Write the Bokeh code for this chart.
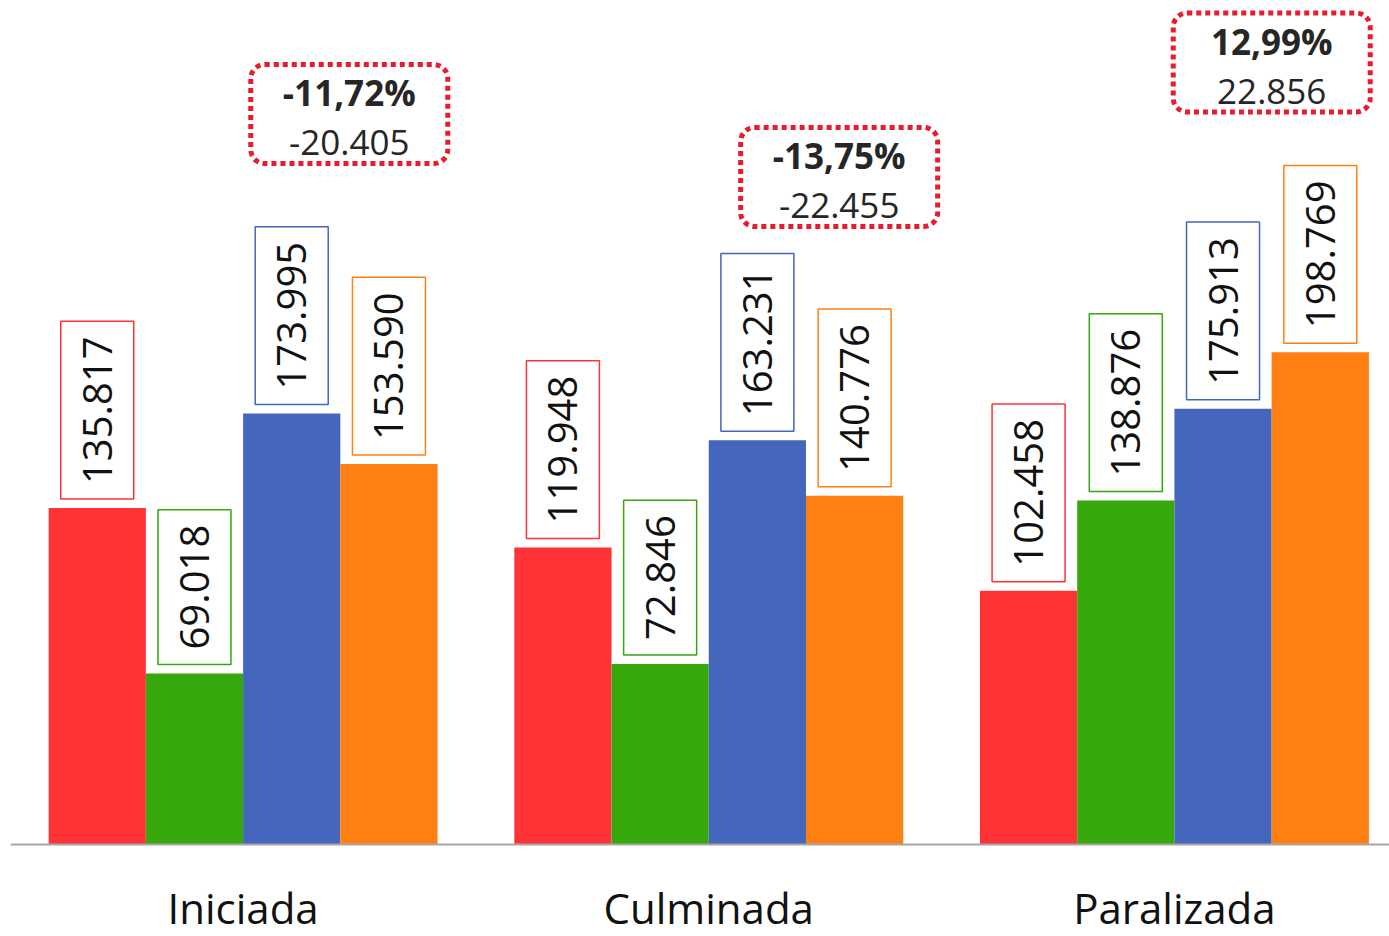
import math
from bokeh.plotting import figure
from bokeh.models import ColumnDataSource, FixedTicker, BoxAnnotation, Range1d
from bokeh.core.properties import value
from bokeh.embed import file_html
from bokeh.resources import INLINE

# ---- data ----
categories = ["Iniciada", "Culminada", "Paralizada"]
serie_1 = [135817, 119948, 102458]   # red
serie_2 = [69018, 72846, 138876]     # green
serie_3 = [173995, 163231, 175913]   # blue
serie_4 = [153590, 140776, 198769]   # orange
series = [serie_1, serie_2, serie_3, serie_4]
colors = ["#FF3336", "#37A80B", "#4466BD", "#FF7F12"]

# comparison annotations (serie_4 vs serie_3), as printed
var_pct = [-11.72, -13.75, 12.99]
var_abs = [-20405, -22455, 22856]
ann_x = [0.228, 1.280, 2.209]
ann_y = [294900, 269500, 315700]


def fmt_int(v):
    s = f"{abs(v):,}".replace(",", ".")
    return ("-" if v < 0 else "") + s


def fmt_pct(v):
    return f"{v:.2f}".replace(".", ",") + "%"


W, H = 1389, 936
k = 0.002477                      # px per data unit (vertical)
Y1 = 844 / k
Y0 = -92 / k
X0, X1 = -0.4995, 2.4619
kx = (W - 10) / (X1 - X0)         # px per data unit (horizontal)

p = figure(width=W, height=H, x_range=Range1d(X0, X1), y_range=Range1d(Y0, Y1),
           output_backend="svg", toolbar_location=None, y_axis_location=None,
           min_border_left=10, min_border_right=0, min_border_top=0, min_border_bottom=0)

bw = 0.2088
offsets = [-1.5 * bw, -0.5 * bw, 0.5 * bw, 1.5 * bw]
for vals, col, off in zip(series, colors, offsets):
    src = ColumnDataSource(dict(
        x=[i + off for i in range(len(categories))],
        top=vals,
        label=[fmt_int(v) for v in vals],
    ))
    p.vbar(x="x", top="top", bottom=0, width=bw, source=src,
           fill_color=col, line_color=None)
    p.text(x="x", y="top", text="label", source=src, angle=math.pi / 2,
           text_align="left", text_baseline="middle", y_offset=-9,
           text_font=value("Open Sans"), text_font_size="40px", text_color="#111111",
           padding=dict(left=15, right=15, top=22, bottom=22),
           border_line_color=col, border_line_width=1.5)

# annotation boxes
hw = 98.5 / kx
hh = 49.5 / k
for cx, cy in zip(ann_x, ann_y):
    p.add_layout(BoxAnnotation(left=cx - hw, right=cx + hw, bottom=cy - hh, top=cy + hh,
                               fill_alpha=0, line_color="#EA1B2D", line_alpha=1.0,
                               line_width=5, line_dash="5 4", border_radius=14))
asrc = ColumnDataSource(dict(
    x=ann_x,
    y1=[c + 21.5 / k for c in ann_y],
    y2=[c - 28.5 / k for c in ann_y],
    pct=[fmt_pct(v) for v in var_pct],
    diff=[fmt_int(v) for v in var_abs],
))
p.text(x="x", y="y1", text="pct", source=asrc, text_align="center", text_baseline="middle",
       text_font=value("Open Sans"), text_font_size="35px", text_font_style="bold",
       text_color="#262626")
p.text(x="x", y="y2", text="diff", source=asrc, text_align="center", text_baseline="middle",
       text_font=value("Open Sans"), text_font_size="35px", text_color="#262626")

# axis
ax = p.xaxis[0]
ax.fixed_location = 0
ax.ticker = FixedTicker(ticks=list(range(len(categories))))
ax.major_label_overrides = {i: c for i, c in enumerate(categories)}
ax.axis_line_color = "#A6A6A6"
ax.axis_line_width = 2
ax.major_tick_line_color = None
ax.minor_tick_line_color = None
ax.major_label_text_font = "Open Sans"
ax.major_label_text_font_size = "42px"
ax.major_label_text_color = "#111111"
ax.major_label_standoff = 28
p.xgrid.visible = False
p.ygrid.visible = False
p.outline_line_color = None

open("out.html", "w").write(file_html(p, INLINE))
